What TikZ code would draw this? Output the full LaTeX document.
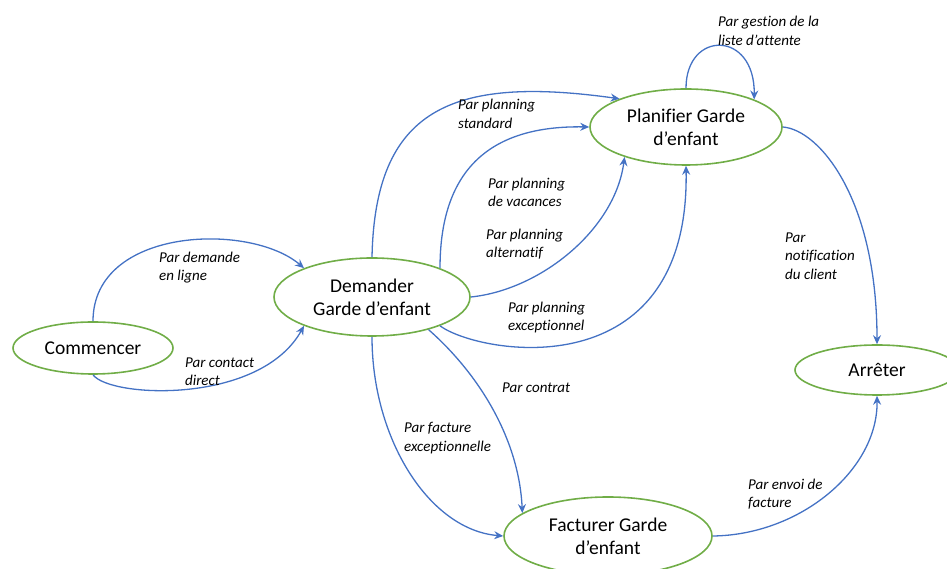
\documentclass[tikz,border=0pt]{standalone}
\usepackage{fontspec}
\setmainfont{Carlito}[Ligatures={NoCommon}]
\usetikzlibrary{shapes.geometric,arrows.meta}
\definecolor{stgreen}{HTML}{70AD47}
\definecolor{arblue}{HTML}{4472C4}
\tikzset{
  state/.style={ellipse, draw=stgreen, line width=1.6pt, inner sep=0pt, align=center,
    font=\fontsize{19.5}{23}\selectfont},
  trans/.style={draw=arblue, line width=1.3pt, -{Stealth[length=9pt,width=8pt,inset=3pt]}},
  lbl/.style={anchor=west, align=left, inner sep=0pt, font=\fontsize{15}{18.5}\selectfont\itshape}
}
\begin{document}
\begin{tikzpicture}[x=1pt,y=1pt]
\useasboundingbox (0,0) rectangle (947,569);
\node[state, minimum width=160pt, minimum height=52pt] (com) at (93,221) {Commencer};
\node[state, minimum width=196pt, minimum height=78pt] (dem) at (372,272) {Demander\\Garde d’enfant};
\node[state, minimum width=192pt, minimum height=76pt] (pla) at (686,442) {Planifier Garde\\d’enfant};
\node[state, minimum width=164pt, minimum height=50pt] (arr) at (877,199) {Arrêter};
\node[state, minimum width=208pt, minimum height=78pt] (fac) at (608,33) {Facturer Garde\\d’enfant};

\draw[trans] (com.north) .. controls (93,342) and (250,347) .. (dem.157);
\draw[trans] (com.south) .. controls (110,171) and (260,164) .. (dem.203);
\draw[trans] (dem.north) .. controls (375,459) and (450,494) .. (pla.157);
\draw[trans] (dem.23) .. controls (440,389) and (480,444) .. (pla.180);
\draw[trans] (dem.east) .. controls (540,279) and (615,339) .. (pla.206);
\draw[trans] (dem.-23) .. controls (480,214) and (690,179) .. (pla.south);
\draw[trans] (pla.north) .. controls (686,539) and (755,539) .. (pla.22);
\draw[trans] (pla.east) .. controls (820,439) and (877,369) .. (arr.north);
\draw[trans] (dem.south) .. controls (372,129) and (430,39) .. (fac.west);
\draw[trans] (dem.-30) .. controls (480,194) and (519,129) .. (fac.165);
\draw[trans] (fac.east) .. controls (800,34) and (878,99) .. (arr.south);

\node[lbl] (l1) at (159,301.5) {Par demande\\en ligne};
\node[lbl] (l2) at (185,197.5) {Par contact\\direct};
\node[lbl] (l3) at (458,455) {Par planning\\standard};
\node[lbl] (l4) at (488,376.5) {Par planning\\de vacances};
\node[lbl] (l5) at (486,325) {Par planning\\alternatif};
\node[lbl] (l6) at (508,251.5) {Par planning\\exceptionnel};
\node[lbl] (l7) at (718,538) {Par gestion de la\\liste d’attente};
\node[lbl] (l8) at (785,313) {Par\\notification\\du client};
\node[lbl] (l9) at (502,181) {Par contrat};
\node[lbl] (l10) at (404,131) {Par facture\\exceptionnelle};
\node[lbl] (l11) at (748,75) {Par envoi de\\facture};
\end{tikzpicture}
\end{document}
